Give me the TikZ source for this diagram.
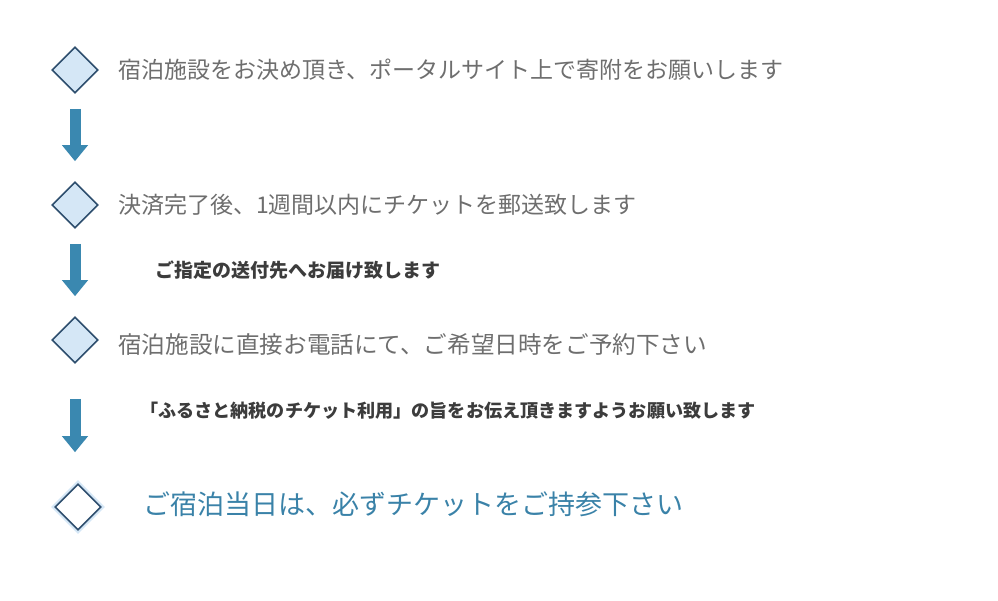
\documentclass[tikz,border=0pt]{standalone}
\usepackage{fontspec}
\usepackage{xcolor}
\usepackage{tikz}
\usetikzlibrary{arrows.meta,shapes.geometric,positioning}
\newfontfamily\jpfont{Noto Sans CJK JP}
\definecolor{stepgray}{HTML}{6E6E6E}
\definecolor{notegray}{HTML}{3C3C3C}
\definecolor{flowblue}{HTML}{3A88B0}
\definecolor{boxblue}{HTML}{D5E7F6}
\definecolor{edgeblue}{HTML}{2E4E6E}
\definecolor{lastblue}{HTML}{3A82A8}

\begin{document}
\begin{tikzpicture}[
x=1pt, y=-1pt,
font=\jpfont,
stepbox/.style={diamond,draw=edgeblue,line width=1.6pt,fill=boxblue,minimum width=46pt,minimum height=46pt,inner sep=0pt},
lastbox/.style={diamond,draw=edgeblue,line width=1.6pt,fill=white,minimum width=46pt,minimum height=46pt,inner sep=0pt,
  preaction={draw=boxblue,line width=6pt}},
steptext/.style={anchor=west,inner sep=0pt,text=stepgray,font=\jpfont\fontsize{23}{28}\selectfont},
notetext/.style={anchor=west,inner sep=0pt,text=notegray,font=\jpfont\bfseries\fontsize{18}{22}\selectfont},
flow/.style={line width=11pt,flowblue,-{Triangle[width=25pt,length=16pt]}}
]
    % page
    \useasboundingbox (0,0) rectangle (998,600);

    % steps
    \node[stepbox] (d1) at (75,70) {};
    \node[steptext] (t1) at (118,70) {宿泊施設をお決め頂き、ポータルサイト上で寄附をお願いします};

    \node[stepbox] (d2) at (75,205) {};
    \node[steptext] (t2) at (118,205) {決済完了後、1週間以内にチケットを郵送致します};
    \node[notetext,font=\jpfont\bfseries\fontsize{19}{22}\selectfont] (n2) at (155,270) {ご指定の送付先へお届け致します};

    \node[stepbox] (d3) at (75,340) {};
    \node[steptext,font=\jpfont\fontsize{23.6}{28}\selectfont] (t3) at (118,345) {宿泊施設に直接お電話にて、ご希望日時をご予約下さい};
    \node[notetext,font=\jpfont\bfseries\fontsize{18.1}{22}\selectfont] (n3) at (140,411) {「ふるさと納税のチケット利用」の旨をお伝え頂きますようお願い致します};

    \node[lastbox] (d4) at (78,507) {};
    \node[anchor=west,inner sep=0pt,text=lastblue,font=\jpfont\fontsize{27}{32}\selectfont] (t4) at (143,504) {ご宿泊当日は、必ずチケットをご持参下さい};

    % arrows
    \draw[flow,shorten <=15pt,shorten >=20pt] (d1) -- (d2);
    \draw[flow,shorten <=15pt,shorten >=20pt] (d2) -- (d3);
    \draw[flow,shorten <=35pt,shorten >=31pt] (d3.south) -- (d3.south |- d4.north);

\end{tikzpicture}
\end{document}
